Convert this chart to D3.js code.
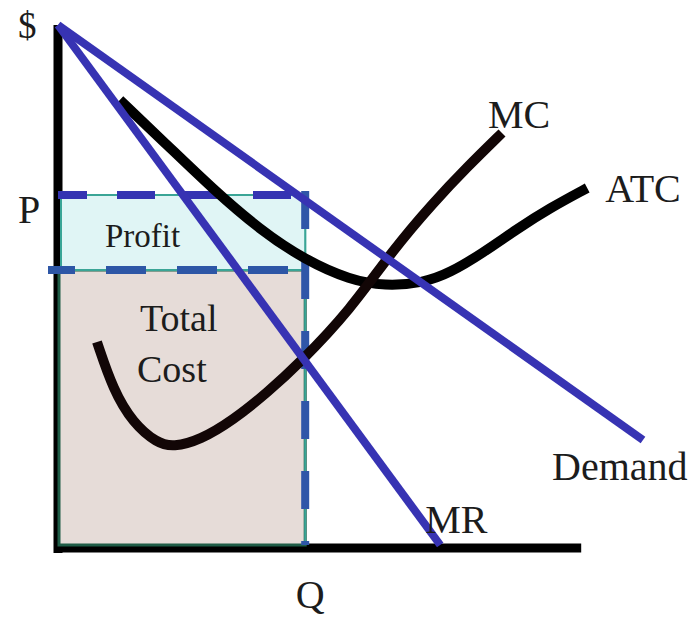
<!DOCTYPE html>
<html>
<head>
<meta charset="utf-8">
<script src="https://cdn.jsdelivr.net/npm/d3@7"></script>
<style>
  body { margin: 0; background: #fff; }
  text { font-family: "Liberation Serif", "Times New Roman", serif; fill: #1c1c1c; }
</style>
</head>
<body>
<div id="chart"></div>
<script>
// curves, as [quantity, dollars]
var demand = [[0, 104.6], [97.5, 21.6]];
var mr = [[0, 104.6], [63.7, 0.6]];
var mc = [[6.5, 41.2], [9.2, 31.6], [12.5, 25], [16.5, 21], [19.2, 20.2], [23.7, 21.6],
          [29.2, 25.6], [34.8, 31], [40.3, 37], [48.7, 47.6], [55.8, 59.6], [62.5, 69],
          [68.2, 76.2], [74, 83]];
var atc = [[10.3, 89.6], [18.2, 80.6], [25.8, 71.8], [33.7, 63.6], [41.2, 57.6], [48.7, 53.6],
           [54.5, 52.4], [60.8, 53], [65.3, 55], [70.8, 59], [76.5, 63.8], [82, 68],
           [88.2, 72]];

// profit maximising point
var eqQ = 41.2, eqP = 70.6, eqAtc = 55.6;

// axis extents
var axisTop = 104.6, axisRight = 87.2;

var axisLabels = ["$", "P", "Q"];
var areaLabels = ["Profit", "Total", "Cost"];
var curveLabels = ["MC", "ATC", "Demand", "MR"];

var width = 700, height = 617;

var svg = d3.select("#chart").append("svg")
    .attr("width", width)
    .attr("height", height);

var xS = d3.scaleLinear().domain([0, 100]).range([58, 658]);
var yS = d3.scaleLinear().domain([0, 105]).range([548, 23]);

var line = d3.line()
    .x(function (d) { return xS(d[0]); })
    .y(function (d) { return yS(d[1]); });
var smooth = d3.line()
    .x(function (d) { return xS(d[0]); })
    .y(function (d) { return yS(d[1]); })
    .curve(d3.curveBasis);

//axes
svg.append("line")
    .attr("x1", xS(0)).attr("x2", xS(0))
    .attr("y1", yS(axisTop)).attr("y2", yS(0) + 5)
    .attr("stroke", "#000").attr("stroke-width", 9);
svg.append("line")
    .attr("x1", xS(0) - 4).attr("x2", xS(axisRight))
    .attr("y1", yS(0)).attr("y2", yS(0))
    .attr("stroke", "#000").attr("stroke-width", 9);

//total cost box
svg.append("rect")
    .attr("x", xS(0) + 1)
    .attr("y", yS(eqAtc))
    .attr("width", xS(eqQ) - xS(0) - 1)
    .attr("height", yS(0) - 3 - yS(eqAtc))
    .attr("fill", "#e6dcd8")
    .attr("stroke", "#1f5d47")
    .attr("stroke-width", 3);
// teal right edge
svg.append("line")
    .attr("x1", xS(eqQ)).attr("x2", xS(eqQ))
    .attr("y1", yS(eqP)).attr("y2", yS(0) - 3)
    .attr("stroke", "#3aa596").attr("stroke-width", 2);

//profit box
svg.append("rect")
    .attr("x", xS(0) + 3)
    .attr("y", yS(eqP))
    .attr("width", xS(eqQ) - xS(0) - 3)
    .attr("height", yS(eqAtc) - yS(eqP))
    .attr("fill", "#e0f5f5")
    .attr("stroke", "#3aa596")
    .attr("stroke-width", 2);

//dashed guides
svg.append("line")
    .attr("x1", xS(0)).attr("x2", xS(eqQ))
    .attr("y1", yS(eqP)).attr("y2", yS(eqP))
    .attr("stroke", "#3434b2").attr("stroke-width", 8)
    .attr("stroke-dasharray", "38 30").attr("stroke-dashoffset", 9);
svg.append("line")
    .attr("x1", xS(0) - 10).attr("x2", xS(eqQ))
    .attr("y1", yS(eqAtc)).attr("y2", yS(eqAtc))
    .attr("stroke", "#2d56a6").attr("stroke-width", 8)
    .attr("stroke-dasharray", "40 31").attr("stroke-dashoffset", 13);
svg.append("line")
    .attr("x1", xS(eqQ)).attr("x2", xS(eqQ))
    .attr("y1", yS(eqP) - 4).attr("y2", yS(0) - 3)
    .attr("stroke", "#2f56a8").attr("stroke-width", 8)
    .attr("stroke-dasharray", "38 32");

//cost curves
svg.append("path")
    .attr("d", smooth(atc))
    .attr("fill", "none").attr("stroke", "#000").attr("stroke-width", 10);
svg.append("path")
    .attr("d", smooth(mc))
    .attr("fill", "none").attr("stroke", "#120606").attr("stroke-width", 10);

//demand and MR
svg.append("path")
    .attr("d", line(demand))
    .attr("fill", "none").attr("stroke", "#3733b3").attr("stroke-width", 8)
    .attr("stroke-linecap", "butt");
svg.append("path")
    .attr("d", line(mr))
    .attr("fill", "none").attr("stroke", "#3733b3").attr("stroke-width", 8);

//axis labels
svg.append("text").text(axisLabels[0])
    .attr("x", xS(0) - 40).attr("y", yS(axisTop) + 13)
    .style("font-size", "37px");
svg.append("text").text(axisLabels[1])
    .attr("x", xS(0) - 40).attr("y", yS(eqP) + 28)
    .style("font-size", "40px");
svg.append("text").text(axisLabels[2])
    .attr("x", xS(eqQ) + 5).attr("y", yS(0) + 60)
    .attr("text-anchor", "middle")
    .style("font-size", "40px");

//area labels
svg.append("text").text(areaLabels[0])
    .attr("x", xS(0) + 47).attr("y", yS(eqP) + 52)
    .style("font-size", "33px");
svg.append("text").text(areaLabels[1])
    .attr("x", xS(0) + 82).attr("y", 331)
    .style("font-size", "38px");
svg.append("text").text(areaLabels[2])
    .attr("x", xS(0) + 79).attr("y", 382)
    .style("font-size", "38px");

//curve labels
var mcEnd = mc[mc.length - 1], atcEnd = atc[atc.length - 1];
svg.append("text").text(curveLabels[0])
    .attr("x", xS(mcEnd[0]) - 14).attr("y", yS(mcEnd[1]) - 5)
    .style("font-size", "40px");
svg.append("text").text(curveLabels[1])
    .attr("x", xS(atcEnd[0]) + 18).attr("y", yS(atcEnd[1]) + 14)
    .style("font-size", "40px");
svg.append("text").text(curveLabels[2])
    .attr("x", xS(demand[1][0]) - 91).attr("y", yS(demand[1][1]) + 40)
    .style("font-size", "40px");
svg.append("text").text(curveLabels[3])
    .attr("x", xS(mr[1][0]) - 15).attr("y", yS(mr[1][1]) - 12)
    .style("font-size", "40px");
</script>
</body>
</html>
